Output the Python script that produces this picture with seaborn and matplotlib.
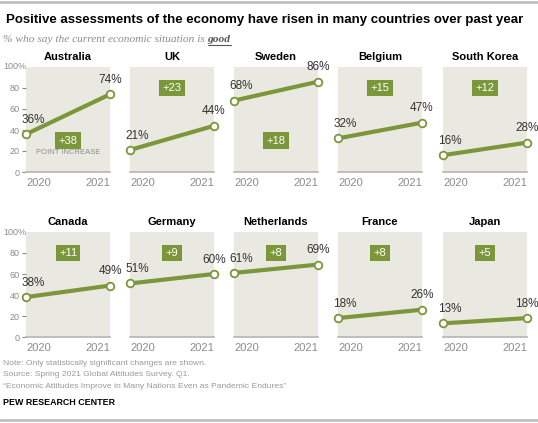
import matplotlib
matplotlib.use("Agg")
import matplotlib.pyplot as plt
import seaborn as sns
import pandas as pd

# data
countries = ["Australia", "UK", "Sweden", "Belgium", "South Korea",
             "Canada", "Germany", "Netherlands", "France", "Japan"]
years = [2020, 2021]
pct_2020 = [36, 21, 68, 32, 16, 38, 51, 61, 18, 13]
pct_2021 = [74, 44, 86, 47, 28, 49, 60, 69, 26, 18]
y_ticks = [0, 20, 40, 60, 80]
y_tick_labels = ["0", "20", "40", "60", "80"]
y_top_label = "100%"

# long form table for seaborn
rows = []
for c, a, b in zip(countries, pct_2020, pct_2021):
    rows.append({"country": c, "year": years[0], "pct": a})
    rows.append({"country": c, "year": years[1], "pct": b})
df = pd.DataFrame(rows)

# layout: where the "+N" badge sits in each panel (y in data units)
badge_y = {"Australia": 30, "Sweden": 30}

sns.set_theme(style="white")
plt.rcParams["font.family"] = ["Liberation Sans", "DejaVu Sans"]

GREEN = "#7b973a"
PANEL = "#eae9e1"
GRAY = "#8c8c8c"
TXT = "#333333"

W, H = 538, 423
fig = plt.figure(figsize=(W / 100, H / 100), dpi=100)
fig.patch.set_facecolor("white")

lefts = [26, 130, 234, 338, 443]
pw, ph = 84, 105
bottoms = [172, 337]

for i, c in enumerate(countries):
    r, col = divmod(i, 5)
    x0 = lefts[col]
    yb = bottoms[r]
    ax = fig.add_axes([x0 / W, 1 - yb / H, pw / W, ph / H])
    ax.set_facecolor(PANEL)
    sub = df[df["country"] == c]
    sns.lineplot(data=sub, x="year", y="pct", ax=ax, color=GREEN, lw=3,
                 marker="o", markersize=5.5, markerfacecolor="white",
                 markeredgecolor=GREEN, markeredgewidth=1.3, clip_on=False,
                 zorder=5)
    ax.set_xlim(years[0], years[1])
    ax.set_ylim(0, 100)
    for s in ["top", "right", "left"]:
        ax.spines[s].set_visible(False)
    ax.spines["bottom"].set_color("#b5b5b5")
    ax.spines["bottom"].set_linewidth(1.2)
    ax.set_xlabel("")
    ax.set_ylabel("")
    ax.set_xticks(years)
    ax.set_xticklabels([str(y) for y in years], fontsize=8, color=GRAY)
    lab = ax.get_xticklabels()
    lab[0].set_ha("left")
    lab[1].set_ha("right")
    ax.tick_params(axis="x", length=0, pad=4)
    if col == 0:
        ax.set_yticks(y_ticks)
        ax.set_yticklabels(y_tick_labels, fontsize=6.5, color=GRAY)
        ax.tick_params(axis="y", length=3, width=0.8, color=GRAY, pad=1.5, left=True)
        ax.annotate(y_top_label, xy=(0, 100), xycoords=("axes fraction", "data"),
                    xytext=(-23, 0), textcoords="offset pixels", ha="left",
                    va="center", fontsize=6.5, color=GRAY, annotation_clip=False)
    else:
        ax.set_yticks([])

    ax.set_title(c, fontsize=8, fontweight="bold", color="black", pad=5)

    a = sub["pct"].iloc[0]
    b = sub["pct"].iloc[1]
    ax.annotate(f"{a}%", (years[0], a), xytext=(5, 6), textcoords="offset points",
                ha="center", va="bottom", fontsize=8.5, color=TXT, annotation_clip=False)
    ax.annotate(f"{b}%", (years[1], b), xytext=(0, 6), textcoords="offset points",
                ha="center", va="bottom", fontsize=8.5, color=TXT, annotation_clip=False)

    by = badge_y.get(c, 80)
    ax.text(2020.5, by, f"+{b - a}", ha="center", va="center", fontsize=8,
            color="white",
            bbox=dict(boxstyle="square,pad=0.3", fc=GREEN, ec="none"))
    if c == "Australia":
        ax.text(2020.5, by - 11, "POINT INCREASE", ha="center", va="center",
                fontsize=5.5, color=GRAY)

# title and subtitle
fig.text(6 / W, 1 - 20 / H, "Positive assessments of the economy have risen in many countries over past year",
         fontsize=9.5, fontweight="bold", color="black", va="center", ha="left")
sub1 = fig.text(3 / W, 1 - 40 / H, "% who say the current economic situation is ",
                fontsize=8.2, style="italic", color=GRAY, va="center", ha="left",
                family="Liberation Serif")
fig.canvas.draw()
rend = fig.canvas.get_renderer()
bb = sub1.get_window_extent(rend)
good = fig.text(bb.x1 / W, 1 - 40 / H, "good", fontsize=8.2, style="italic",
                fontweight="bold", color="#555555", va="center", ha="left",
                family="Liberation Serif")
gb = good.get_window_extent(rend)
fig.add_artist(plt.Line2D([gb.x0 / W, gb.x1 / W], [(gb.y0 - 1) / H, (gb.y0 - 1) / H],
                          color="#555555", lw=0.8))

# footer
foot = ["Note: Only statistically significant changes are shown.",
        "Source: Spring 2021 Global Attitudes Survey. Q1.",
        "\u201cEconomic Attitudes Improve in Many Nations Even as Pandemic Endures\u201d"]
for k, t in enumerate(foot):
    fig.text(3 / W, 1 - (363 + 11.5 * k) / H, t, fontsize=6.1, color="#999999",
             va="center", ha="left")
fig.text(3 / W, 1 - 402 / H, "PEW RESEARCH CENTER", fontsize=6.4, fontweight="bold",
         color="black", va="center", ha="left")

# frame rules top and bottom
for yy in [2, 420]:
    fig.add_artist(plt.Line2D([0, 1], [1 - yy / H, 1 - yy / H], color="#c0c0c0", lw=2))

fig.savefig("out.png", dpi=100, facecolor="white")
